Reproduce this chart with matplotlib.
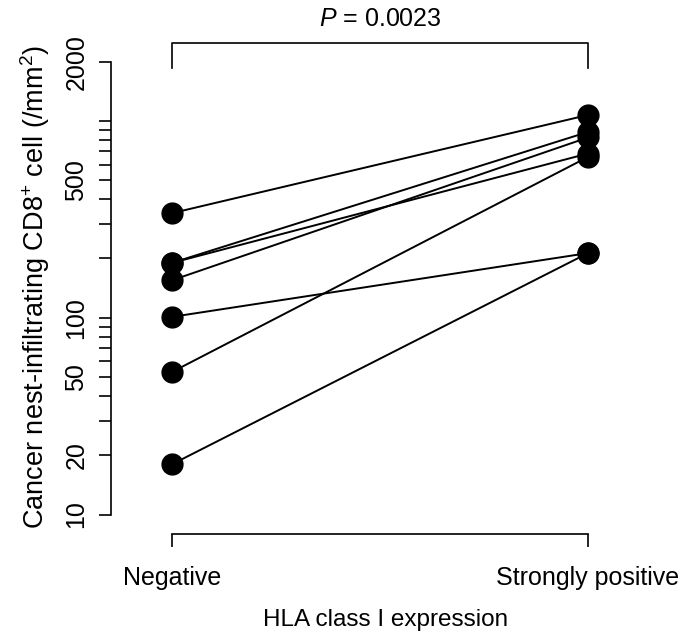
import matplotlib
matplotlib.use('Agg')
import matplotlib.pyplot as plt
import matplotlib.transforms as mtransforms
import numpy as np

plt.rcParams['font.family'] = ['Liberation Sans', 'DejaVu Sans']
plt.rcParams['mathtext.fontset'] = 'custom'
plt.rcParams['mathtext.rm'] = 'Liberation Sans'
plt.rcParams['mathtext.it'] = 'Liberation Sans:italic'

# paired values per patient (cells/mm2)
negative = [340, 190, 190, 155, 101, 53, 18]
strong = [1072, 879, 683, 824, 213, 656, 213]
groups = ['Negative', 'Strongly positive']
ytick_vals = [10, 20, 30, 40, 50, 60, 70, 80, 90,
              100, 200, 300, 400, 500, 600, 700, 800, 900, 1000, 2000]
ytick_labels = ['10', '20', '', '', '50', '', '', '', '',
                '100', '', '', '', '500', '', '', '', '', '', '2000']
p_text = '$P$ = 0.0023'

W, H = 694, 635
fig = plt.figure(figsize=(W / 100, H / 100), dpi=100)
left, right, top, bottom = 110.7, 660, 40, 534
ax = fig.add_axes([left / W, 1 - bottom / H, (right - left) / W, (bottom - top) / H])

for a, b in zip(negative, strong):
    ax.plot([1, 2], [a, b], color='black', lw=1.4, zorder=2)
ax.plot([1] * len(negative), negative, 'o', color='black', ms=15, zorder=3, clip_on=False)
ax.plot([2] * len(strong), strong, 'o', color='black', ms=15, zorder=3, clip_on=False)

ax.set_yscale('log')
ax.set_ylim(7.96, 2578)
ax.set_xlim(0.8526, 2.1731)
ax.set_yticks(ytick_vals)
ax.set_yticklabels(ytick_labels, rotation=90, va='center')
ax.minorticks_off()
ax.set_xticks([1, 2])
ax.set_xticklabels(groups)

for s in ['top', 'right']:
    ax.spines[s].set_visible(False)
ax.spines['left'].set_bounds(10, 2000)
ax.spines['bottom'].set_bounds(1, 2)
for s in ['left', 'bottom']:
    ax.spines[s].set_linewidth(1.2)
ax.tick_params(axis='both', direction='out', length=9, width=1.2, labelsize=18)
ax.tick_params(axis='y', pad=7)
ax.tick_params(axis='x', pad=14)

ax.set_ylabel('Cancer nest-infiltrating CD8$^{+}$ cell (/mm$^{2}$)', fontsize=19.5, labelpad=9)
ax.set_xlabel('HLA class I expression', fontsize=17.5, labelpad=14)

# significance bracket
tr = mtransforms.blended_transform_factory(ax.transData, ax.transAxes)
ax.plot([1, 1, 2, 2], [0.9433, 0.9939, 0.9939, 0.9433], color='black', lw=1.2,
        transform=tr, clip_on=False)
ax.text(1.5, 1.043, p_text, transform=tr, ha='center', va='center', fontsize=18)

fig.savefig('out.png', dpi=100)
